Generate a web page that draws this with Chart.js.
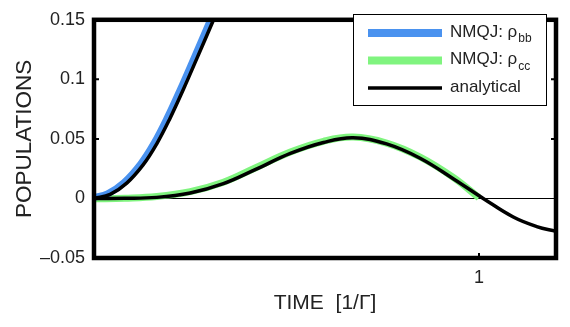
<!DOCTYPE html>
<html>
<head>
<meta charset="utf-8">
<script src="https://cdn.jsdelivr.net/npm/chart.js@4.4.1/dist/chart.umd.min.js"></script>
<style>
  html, body { margin: 0; padding: 0; background: #fff; }
  #wrap { width: 570px; height: 327px; }
</style>
</head>
<body>
<div id="wrap"><canvas id="chart" width="570" height="327"></canvas></div>
<script>
// values
const tBbExact = [0, 0.042, 0.085, 0.128, 0.163, 0.197, 0.232, 0.267, 0.31, 0.34];
const bbExact = [0, 0.0034, 0.0129, 0.0284, 0.0459, 0.067, 0.0915, 0.1174, 0.1496, 0.1718];
const tBbNmqj = [0, 0.035, 0.078, 0.121, 0.156, 0.19, 0.225, 0.26, 0.303, 0.333];
const bbNmqj = [0.0008, 0.0039, 0.0134, 0.0289, 0.0464, 0.0675, 0.092, 0.1179, 0.1501, 0.1723];

const tCcExact = [0, 0.08, 0.163, 0.25, 0.336, 0.42, 0.51, 0.596, 0.673, 0.76, 0.847, 0.934, 1.011, 1.089, 1.15, 1.2];
const ccExact = [0, 0.0001, 0.0009, 0.0046, 0.0124, 0.0244, 0.0378, 0.047, 0.051, 0.0458, 0.0338, 0.0164, 0, -0.0156, -0.0236, -0.0276];
const tCcNmqj = [0, 0.08, 0.163, 0.25, 0.336, 0.42, 0.51, 0.596, 0.673, 0.76, 0.847, 0.934, 1.0];
const ccNmqj = [-0.0003, 0.0002, 0.0016, 0.0057, 0.0136, 0.0258, 0.039, 0.048, 0.0515, 0.0465, 0.0348, 0.0175, 0.0005];

const yTicks = [-0.05, 0, 0.05, 0.1, 0.15];
const yTickLabels = ["\u20130.05", "0", "0.05", "0.1", "0.15"];
const xTicks = [1];
const xTickLabels = ["1"];
const innerTicksY = [0.05, 0.1];

const legendItems = [
  { main: "NMQJ: \u03c1", sub: "bb", color: "#4a92ef", width: 8 },
  { main: "NMQJ: \u03c1", sub: "cc", color: "#80f47f", width: 8 },
  { main: "analytical", sub: "", color: "#000000", width: 3.5 },
];

const FONT = "'Liberation Sans', Arial, Helvetica, sans-serif";

function pts(xs, ys) {
  return xs.map((x, i) => ({ x: x, y: ys[i] }));
}

// frame, inward ticks (MATLAB style) and legend box
const framePlugin = {
  id: "frame",
  afterDatasetsDraw(chart) {
    const { ctx, chartArea: a, scales } = chart;
    ctx.save();
    ctx.strokeStyle = "#000";
    ctx.lineWidth = 2;
    innerTicksY.forEach((v) => {
      const y = scales.y.getPixelForValue(v);
      ctx.beginPath();
      ctx.moveTo(a.left, y); ctx.lineTo(a.left + 5, y);
      ctx.moveTo(a.right, y); ctx.lineTo(a.right - 5, y);
      ctx.stroke();
    });
    xTicks.forEach((v) => {
      const x = scales.x.getPixelForValue(v);
      ctx.beginPath();
      ctx.moveTo(x, a.top); ctx.lineTo(x, a.top + 5);
      ctx.moveTo(x, a.bottom); ctx.lineTo(x, a.bottom - 5);
      ctx.stroke();
    });
    ctx.lineWidth = 4.5;
    ctx.strokeRect(a.left, a.top, a.right - a.left, a.bottom - a.top);

    // legend
    const bx = 353, by = 14, bw = 193, bh = 91;
    ctx.fillStyle = "#fff";
    ctx.fillRect(bx, by, bw, bh);
    ctx.lineWidth = 1;
    ctx.strokeRect(bx + 0.5, by + 0.5, bw, bh);
    legendItems.forEach((it, i) => {
      const y = 33 + i * 27.5;
      ctx.strokeStyle = it.color;
      ctx.lineWidth = it.width;
      ctx.beginPath();
      ctx.moveTo(368, y); ctx.lineTo(442, y);
      ctx.stroke();
      ctx.fillStyle = "#222";
      ctx.textBaseline = "middle";
      ctx.textAlign = "left";
      ctx.font = "17px " + FONT;
      ctx.fillText(it.main, 450, y - 1);
      if (it.sub) {
        const w = ctx.measureText(it.main).width;
        ctx.font = "12px " + FONT;
        ctx.fillText(it.sub, 450 + w + 1, y + 6);
      }
    });
    ctx.restore();
  },
};

new Chart(document.getElementById("chart"), {
  type: "line",
  data: {
    datasets: [
      { label: "analytical bb", data: pts(tBbExact, bbExact), borderColor: "#000", borderWidth: 3.5, order: 0 },
      { label: "analytical cc", data: pts(tCcExact, ccExact), borderColor: "#000", borderWidth: 3.5, order: 0 },
      { label: "NMQJ bb", data: pts(tBbNmqj, bbNmqj), borderColor: "#4a92ef", borderWidth: 7, order: 1 },
      { label: "NMQJ cc", data: pts(tCcNmqj, ccNmqj), borderColor: "#80f47f", borderWidth: 7, order: 1 },
    ],
  },
  options: {
    responsive: false,
    animation: false,
    devicePixelRatio: 1,
    layout: { padding: { top: 8, right: 14, left: 0, bottom: 0 } },
    elements: {
      point: { radius: 0 },
      line: { tension: 0.4, fill: false, borderCapStyle: "butt" },
    },
    plugins: { legend: { display: false }, tooltip: { enabled: false } },
    scales: {
      x: {
        type: "linear",
        min: 0,
        max: 1.2,
        afterBuildTicks: (s) => { s.ticks = xTicks.map((v) => ({ value: v })); },
        afterFit: (s) => { s.height = 69; },
        grid: { display: false, drawTicks: false },
        border: { display: false },
        ticks: {
          padding: 9,
          color: "#222",
          font: { family: FONT, size: 18 },
          callback: (v) => xTickLabels[xTicks.indexOf(v)],
        },
        title: {
          display: true,
          text: "TIME  [1/\u0393]",
          color: "#222",
          font: { family: FONT, size: 21, lineHeight: 1 },
          padding: { top: 0, bottom: 13.5 },
        },
      },
      y: {
        min: -0.05,
        max: 0.15,
        afterBuildTicks: (s) => { s.ticks = yTicks.map((v) => ({ value: v })); },
        afterFit: (s) => { s.width = 94; },
        grid: {
          drawTicks: false,
          lineWidth: 1,
          color: (c) => (c.tick && c.tick.value === 0 ? "#000" : "rgba(0,0,0,0)"),
        },
        border: { display: false },
        ticks: {
          padding: 9,
          color: "#222",
          font: { family: FONT, size: 18 },
          callback: (v) => yTickLabels[yTicks.indexOf(v)],
        },
        title: {
          display: true,
          text: "POPULATIONS",
          color: "#222",
          font: { family: FONT, size: 22.5, lineHeight: 1 },
          padding: { top: 14, bottom: 0 },
        },
      },
    },
  },
  plugins: [framePlugin],
});
</script>
</body>
</html>
